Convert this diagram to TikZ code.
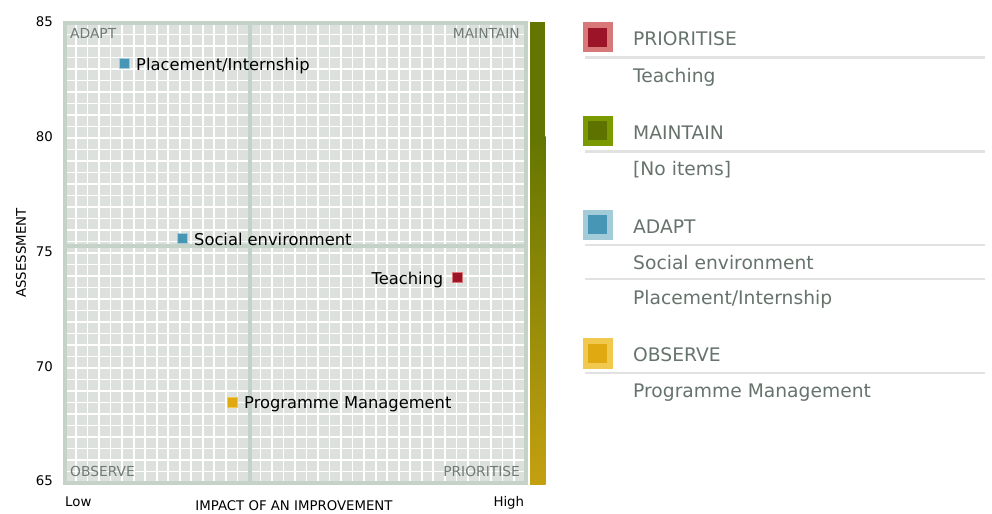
\documentclass[tikz,border=0pt]{standalone}
\usepackage{fontspec}
\setmainfont{DejaVu Sans}
\definecolor{cellgray}{RGB}{220,225,222}
\definecolor{framegray}{RGB}{197,210,200}
\definecolor{quadgray}{RGB}{111,123,116}
\definecolor{legtext}{RGB}{102,115,108}
\definecolor{legline}{RGB}{226,226,226}
\definecolor{priodark}{RGB}{155,20,40}
\definecolor{priolight}{RGB}{217,120,120}
\definecolor{maindark}{RGB}{94,114,0}
\definecolor{mainlight}{RGB}{122,154,0}
\definecolor{adadark}{RGB}{71,150,181}
\definecolor{adalight}{RGB}{163,203,216}
\definecolor{obsdark}{RGB}{224,169,18}
\definecolor{obslight}{RGB}{241,201,79}
\definecolor{bartop}{RGB}{100,118,0}
\definecolor{barmid}{RGB}{143,127,18}
\definecolor{barbot}{RGB}{196,160,16}
\begin{document}
\begin{tikzpicture}[x=1bp,y=-1bp,
    pt/.style={draw,line width=1bp,minimum size=10bp,inner sep=0pt},
    ptlabel/.style={font=\fontsize{16.3bp}{19bp}\selectfont,inner sep=0pt},
    quad/.style={font=\fontsize{13.8bp}{16bp}\selectfont,text=quadgray,inner sep=0pt},
    tick/.style={font=\fontsize{13.3bp}{15bp}\selectfont,inner sep=0pt},
    legicon/.style={minimum size=30bp,inner sep=0pt},
    legdot/.style={minimum size=19bp,inner sep=0pt},
    legtitle/.style={font=\fontsize{18.7bp}{22bp}\selectfont,text=legtext,inner sep=0pt,anchor=base west},
    legrule/.style={draw=legline,line width=2.7bp}]
  \useasboundingbox (0,0) rectangle (992,514);
  \fill[cellgray] (64.5,23) rectangle (525.5,483);
  \foreach \i in {1,...,39} {
    \draw[white,line width=1.7bp] (64.5+\i*11.525,23) -- (64.5+\i*11.525,483);
    \draw[white,line width=1.7bp] (64.5,23+\i*11.5) -- (525.5,23+\i*11.5);
  }
  \draw[framegray,line width=4bp] (249.5,23) -- (249.5,483);
  \draw[framegray,line width=4bp] (64.5,246) -- (525.5,246);
  \draw[framegray,line width=4bp] (64.5,23) rectangle (525.5,483);
  \fill[bartop] (530,22) rectangle (544.5,137);
  \shade[top color=bartop,middle color=barmid,bottom color=barbot] (530,137) rectangle (545.5,484);

  \node[quad,anchor=base west] (qadapt) at (70,38.3) {ADAPT};
  \node[quad,anchor=base east] (qmaintain) at (520,38.3) {MAINTAIN};
  \node[quad,anchor=base west] (qobserve) at (70,476.7) {OBSERVE};
  \node[quad,anchor=base east] (qprioritise) at (520,476.7) {PRIORITISE};

  \node[tick,anchor=east] (t85) at (53,21.7) {85};
  \node[tick,anchor=east] (t80) at (53,136.5) {80};
  \node[tick,anchor=east] (t75) at (53,251.4) {75};
  \node[tick,anchor=east] (t70) at (53,366.2) {70};
  \node[tick,anchor=east] (t65) at (53,481) {65};
  \node[tick,rotate=90] (yname) at (21,253) {ASSESSMENT};
  \node[tick] (xname) at (294,506) {IMPACT OF AN IMPROVEMENT};
  \node[tick,anchor=base west] (low) at (65,506) {Low};
  \node[tick,anchor=base east] (high) at (524.3,506) {High};

  \node[pt,draw=adalight,fill=adadark] (place) at (124.5,64) {};
  \node[ptlabel,anchor=base west] (placelab) at (136,71) {Placement/Internship};
  \node[pt,draw=adalight,fill=adadark] (social) at (182.5,238.5) {};
  \node[ptlabel,anchor=base west] (sociallab) at (194,246) {Social environment};
  \node[pt,draw=priolight,fill=priodark] (teach) at (457.5,278) {};
  \node[ptlabel,anchor=base east] (teachlab) at (443.5,284.3) {Teaching};
  \node[pt,draw=obslight,fill=obsdark] (progman) at (232,402) {};
  \node[ptlabel,anchor=base west] (progmanlab) at (244,408.8) {Programme Management};

  \node[legicon,fill=priolight] (prio) at (597.5,37.5) {};
  \node[legdot,fill=priodark] at (prio) {};
  \node[legtitle] (priolab) at (633,46) {PRIORITISE};
  \draw[legrule] (585,57.3) -- (985,57.3);
  \node[legtitle] (prio1) at (633,82.7) {Teaching};

  \node[legicon,fill=mainlight] (main) at (597.5,131) {};
  \node[legdot,fill=maindark] at (main) {};
  \node[legtitle] (mainlab) at (633,139.3) {MAINTAIN};
  \draw[legrule] (585,151.7) -- (985,151.7);
  \node[legtitle] (main1) at (633,176) {[No items]};

  \node[legicon,fill=adalight] (ada) at (597.5,225) {};
  \node[legdot,fill=adadark] at (ada) {};
  \node[legtitle] (adalab) at (633,233.3) {ADAPT};
  \draw[legrule] (585,245) -- (985,245);
  \node[legtitle] (ada1) at (633,270) {Social environment};
  \draw[legrule] (585,279) -- (985,279);
  \node[legtitle] (ada2) at (633,305) {Placement/Internship};

  \node[legicon,fill=obslight] (obs) at (597.5,353.5) {};
  \node[legdot,fill=obsdark] at (obs) {};
  \node[legtitle] (obslab) at (633,361.7) {OBSERVE};
  \draw[legrule] (585,373) -- (985,373);
  \node[legtitle] (obs1) at (633,397.7) {Programme Management};
\end{tikzpicture}
\end{document}
